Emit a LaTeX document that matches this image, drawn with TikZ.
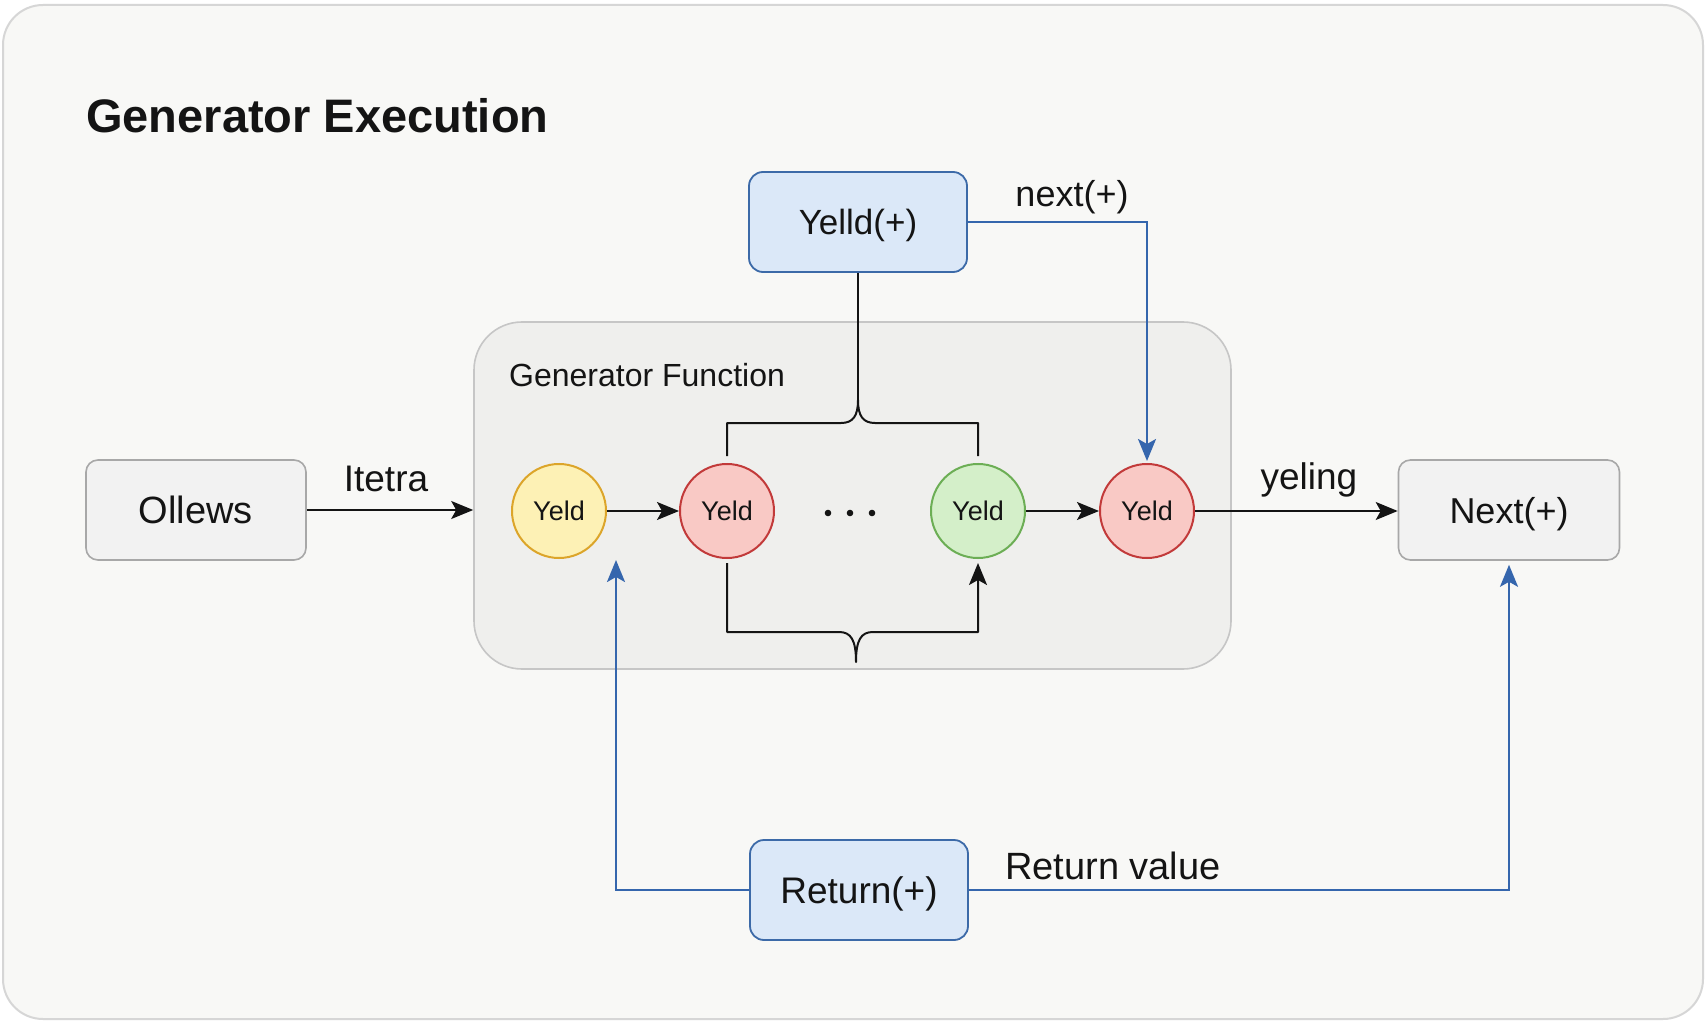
\documentclass[tikz,border=0pt]{standalone}
\usepackage{fontspec}
\setmainfont{Liberation Sans}
\usetikzlibrary{arrows.meta}
\definecolor{pagebg}{HTML}{F8F8F6}
\definecolor{pageborder}{HTML}{D6D6D6}
\definecolor{contfill}{HTML}{EFEFED}
\definecolor{contdraw}{HTML}{C6C6C6}
\definecolor{gboxfill}{HTML}{F2F2F2}
\definecolor{gboxdraw}{HTML}{A8A8A8}
\definecolor{bboxfill}{HTML}{DBE8F8}
\definecolor{bboxdraw}{HTML}{3C6AA8}
\definecolor{blueline}{HTML}{3566AD}
\definecolor{yelfill}{HTML}{FDF1B5}
\definecolor{yeldraw}{HTML}{DCA52A}
\definecolor{redfill}{HTML}{F9C9C5}
\definecolor{reddraw}{HTML}{C23A3A}
\definecolor{grnfill}{HTML}{D4EFC9}
\definecolor{grndraw}{HTML}{6CAE55}
\definecolor{txt}{HTML}{141414}
\tikzset{
  graybox/.style={draw=gboxdraw, fill=gboxfill, line width=1.6pt, rounded corners=12pt,
    minimum width=220pt, minimum height=100pt, inner sep=0pt, text=txt,
    text height=26pt, text depth=0pt},
  bluebox/.style={draw=bboxdraw, fill=bboxfill, line width=1.8pt, rounded corners=14pt,
    minimum width=218pt, minimum height=100pt, inner sep=0pt, text=txt,
    text height=26pt, text depth=0pt},
  yeldnode/.style={circle, minimum size=94pt, inner sep=0pt, line width=2pt, text=txt,
    font=\fontsize{27}{30}\selectfont},
  lbl/.style={text=txt, inner sep=0pt},
  blackarrow/.style={draw=txt, line width=2pt, -{Stealth[length=22pt,width=18pt,inset=5pt]}},
  blackline/.style={draw=txt, line width=2pt},
  bluearrow/.style={draw=blueline, line width=2.3pt, -{Stealth[length=22pt,width=18pt,inset=5pt]}},
}
\begin{document}
\begin{tikzpicture}[x=1pt,y=-1pt]
\useasboundingbox (0,0) rectangle (1706,1024);
\fill[white] (0,0) rectangle (1706,1024);
\draw[draw=pageborder, fill=pagebg, line width=2pt, rounded corners=40pt] (3,5) rectangle (1703,1019);

\node[anchor=west, text=txt, inner sep=0pt, font=\fontsize{47}{52}\selectfont\bfseries] (title) at (86,116) {Generator Execution};

% container
\node[draw=contdraw, fill=contfill, line width=1.6pt, rounded corners=48pt,
  minimum width=757pt, minimum height=347pt, inner sep=0pt] (gen) at (852.5,495.5) {};
\node[anchor=west, text=txt, inner sep=0pt, font=\fontsize{32}{36}\selectfont] (genlbl) at (509,375) {Generator Function};

% boxes
\node[graybox, font=\fontsize{38}{42}\selectfont] (ollews) at (196,510) {Ollews};
\node[graybox, minimum width=221pt, font=\fontsize{36}{40}\selectfont] (next) at (1509,510) {Next(+)};
\node[bluebox, font=\fontsize{35}{40}\selectfont] (yelld) at (858,222) {Yelld(+)};
\node[bluebox, font=\fontsize{37}{40}\selectfont] (ret) at (859,890) {Return(+)};

% circles
\node[yeldnode, draw=yeldraw, fill=yelfill] (c1) at (559,511) {Yeld};
\node[yeldnode, draw=reddraw, fill=redfill] (c2) at (727,511) {Yeld};
\node[yeldnode, draw=grndraw, fill=grnfill] (c3) at (978,511) {Yeld};
\node[yeldnode, draw=reddraw, fill=redfill] (c4) at (1147,511) {Yeld};
\fill[txt] (828,513) circle (3.3pt) (850,513) circle (3.3pt) (872,513) circle (3.3pt);

% black connectors
\draw[blackarrow] (ollews.east) -- (gen.west |- ollews.east);
\node[lbl, font=\fontsize{37}{40}\selectfont] (itetra) at (386,479) {Itetra};
\draw[blackarrow] (c1.east) -- (c2.west);
\draw[blackarrow] (c3.east) -- (c4.west);
\draw[blackarrow] (c4.east) -- (next.west |- c4.east);
\node[lbl, font=\fontsize{37}{40}\selectfont] (yeling) at (1309,480) {yeling};

% top brace
\coordinate (btip) at (858,400);
\draw[blackline] (yelld.south) -- (btip);
\draw[blackline, line join=round] (727,456) -- (727,423) -- (841,423)
  .. controls (853,423) and (858,416) .. (btip)
  .. controls (858,416) and (863,423) .. (875,423) -- (978,423) -- (978,456);

% bottom brace
\draw[blackarrow, line join=round] ([yshift=-4pt]c2.south) -- (727,632) -- (839,632)
  .. controls (851,632) and (856,640) .. (856,662)
  .. controls (856,640) and (861,632) .. (873,632) -- (978,632) -- ([yshift=-4pt]c3.south);

% blue connectors
\draw[bluearrow] (yelld.east) -| ([yshift=2pt]c4.north);
\node[lbl, font=\fontsize{36}{40}\selectfont] (nextlbl) at (1072,197) {next(+)};
\coordinate (rtip) at (616,560);
\draw[bluearrow] (ret.west) -| (rtip);
\draw[bluearrow, shorten >=4pt] (ret.east) -| (next.south);
\node[lbl, font=\fontsize{38}{40}\selectfont] (retlbl) at (1113,866) {Return value};
\end{tikzpicture}
\end{document}
